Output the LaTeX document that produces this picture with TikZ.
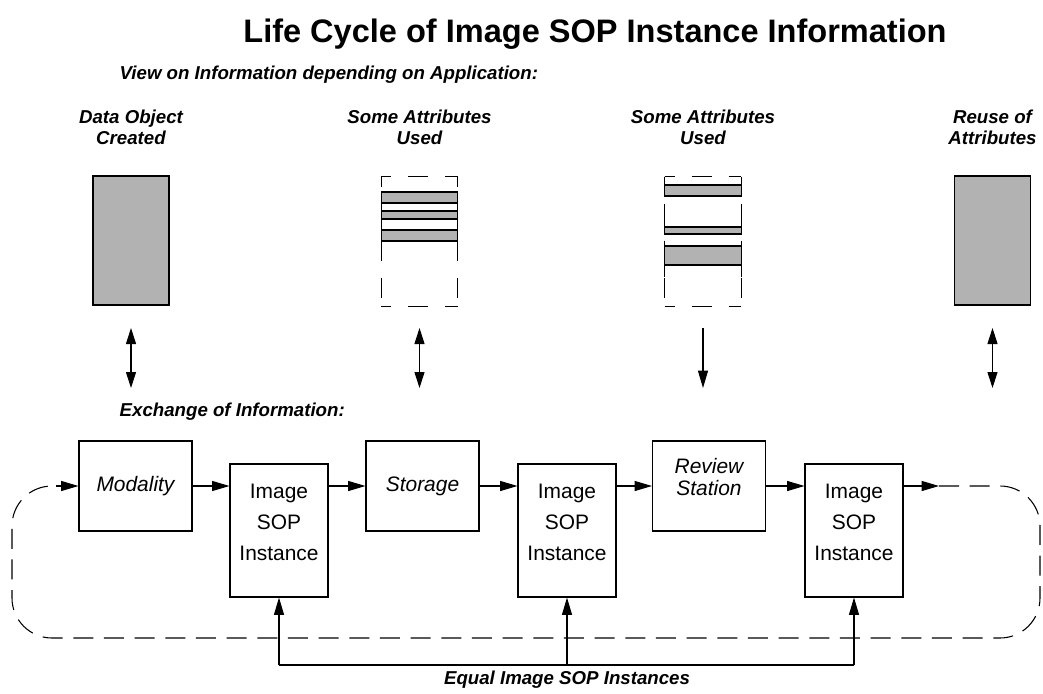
\documentclass[tikz,border=0pt]{standalone}
\usepackage{fontspec}
\setmainfont{Liberation Sans}
\usetikzlibrary{arrows.meta,positioning,calc}

\definecolor{barfill}{gray}{0.70}

\tikzset{
  flow/.style={-{Triangle[length=13pt,width=7.5pt]}, line width=0.8pt},
  dflow/.style={{Triangle[length=12pt,width=7.5pt]}-{Triangle[length=12pt,width=7.5pt]}, line width=0.8pt},
  blockbox/.style={draw, line width=0.8pt, minimum width=84.75pt, minimum height=67.5pt,
    inner sep=0pt, align=center, font=\fontsize{15.7}{16.5}\selectfont},
  sopbox/.style={draw, line width=0.8pt, minimum width=73.5pt, minimum height=99.75pt,
    inner sep=0pt, align=center, font=\fontsize{15.7}{23.6}\selectfont},
  viewbox/.style={minimum width=57pt, minimum height=96.75pt, inner sep=0pt},
  dashside/.style={line width=0.8pt, dash pattern=on 15pt off 12.75pt, dash phase=7.5pt},
  bar/.style={draw, fill=barfill, line width=0.8pt},
  lbl/.style={font=\bfseries\itshape\fontsize{14}{16}\selectfont},
  loopline/.style={line width=0.8pt, dash pattern=on 15pt off 8pt, rounded corners=30pt}
}

\begin{document}
\begin{tikzpicture}[x=0.75pt,y=-0.75pt]
  \useasboundingbox (0,0) rectangle (1043,693);

  % title and headings
  \node[font=\bfseries\fontsize{24.4}{29}\selectfont] (title) at (595,34)
    {Life Cycle of Image SOP Instance Information};
  \node[lbl, anchor=west] (viewhdr) at (115,75) {View on Information depending on Application:};
  \node[lbl, anchor=west] (exchdr) at (115,412) {Exchange of Information:};

  % the four views of the data object
  \node[viewbox, draw, fill=barfill, line width=0.8pt] (view1) at (131,240.5) {};
  \node[viewbox] (view2) at (419.5,241.5) {};
  \node[viewbox] (view3) at (703,241.5) {};
  \node[viewbox, draw, fill=barfill, line width=0.8pt] (view4) at (992.5,240.5) {};

  \node[lbl, align=center] (t1) at (131,127) {Data Object\\Created};
  \node[lbl, align=center] (t2) at (419.5,127) {Some Attributes\\Used};
  \node[lbl, align=center] (t3) at (703,127) {Some Attributes\\Used};
  \node[lbl, align=center] (t4) at (992.5,127) {Reuse of\\Attributes};

  % dashed frames
  \foreach \v in {view2,view3} {
    \draw[dashside] (\v.north west) -- (\v.north east)
      (\v.north east) -- (\v.south east)
      (\v.south west) -- (\v.south east)
      (\v.north west) -- (\v.south west);
  }

  % attributes used
  \draw[bar] (view2.west |- 0,192) rectangle (view2.east |- 0,203);
  \draw[bar] (view2.west |- 0,211) rectangle (view2.east |- 0,219);
  \draw[bar] (view2.west |- 0,230) rectangle (view2.east |- 0,241);
  \draw[line width=0.8pt] (view2.west |- 0,207) -- (view2.west |- 0,243)
    (view2.east |- 0,207) -- (view2.east |- 0,243);

  \draw[bar] (view3.west |- 0,185) rectangle (view3.east |- 0,196);
  \draw[bar] (view3.west |- 0,227) rectangle (view3.east |- 0,234);
  \draw[bar] (view3.west |- 0,246) rectangle (view3.east |- 0,265);
  \draw[line width=0.8pt] (view3.west |- 0,207) -- (view3.west |- 0,234)
    (view3.east |- 0,207) -- (view3.east |- 0,234)
    (view3.west |- 0,246) -- (view3.west |- 0,277)
    (view3.east |- 0,246) -- (view3.east |- 0,277);

  % arrows between views and exchange
  \foreach \n/\x in {1/131,2/419.5,3/703,4/992.5} {
    \coordinate (up\n) at (\x,328);
    \coordinate (dn\n) at (\x,388);
  }
  \draw[dflow] (up1) -- (dn1);
  \draw[dflow] (up2) -- (dn2);
  \draw[flow] (up3) -- (dn3);
  \draw[dflow] (up4) -- (dn4);

  % exchange chain
  \node[blockbox] (mod) at (135.5,486) {\itshape Modality};
  \node[sopbox] (sop1) at (279,530.5) {\raisebox{5.5pt}[\height][\depth]{\begin{tabular}{@{}c@{}}Image\\SOP\\Instance\end{tabular}}};
  \node[blockbox] (stor) at (422.5,486) {\itshape Storage};
  \node[sopbox] (sop2) at (567,530.5) {\raisebox{5.5pt}[\height][\depth]{\begin{tabular}{@{}c@{}}Image\\SOP\\Instance\end{tabular}}};
  \node[blockbox] (rev) at (709,486) {\raisebox{4.5pt}[\height][\depth]{\itshape\begin{tabular}{@{}c@{}}Review\\Station\end{tabular}}};
  \node[sopbox] (sop3) at (854,530.5) {\raisebox{5.5pt}[\height][\depth]{\begin{tabular}{@{}c@{}}Image\\SOP\\Instance\end{tabular}}};

  \draw[flow] (mod.east) -- (mod.east -| sop1.west);
  \draw[flow] (stor.west -| sop1.east) -- (stor.west);
  \draw[flow] (stor.east) -- (stor.east -| sop2.west);
  \draw[flow] (rev.west -| sop2.east) -- (rev.west);
  \draw[flow] (rev.east) -- (rev.east -| sop3.west);

  % the loop back
  \coordinate (loopout) at (939,486);
  \coordinate (loopin) at (56,486);
  \draw[flow] (rev.east -| sop3.east) -- (loopout);
  \draw[loopline] (loopout) -- (1040,486) -- (1040,638) -- (12,638) -- (12,486) -- (loopin);
  \draw[flow] (loopin) -- (mod.west);

  % equal instances
  \coordinate (eq) at (567,665);
  \draw[line width=0.8pt] (sop1.south |- eq) -- (sop3.south |- eq);
  \draw[flow] (sop1.south |- eq) -- (sop1.south);
  \draw[flow] (eq) -- (sop2.south);
  \draw[flow] (sop3.south |- eq) -- (sop3.south);
  \node[lbl, anchor=north] (eqlbl) at ([yshift=-1pt]eq) {Equal Image SOP Instances};
\end{tikzpicture}
\end{document}
